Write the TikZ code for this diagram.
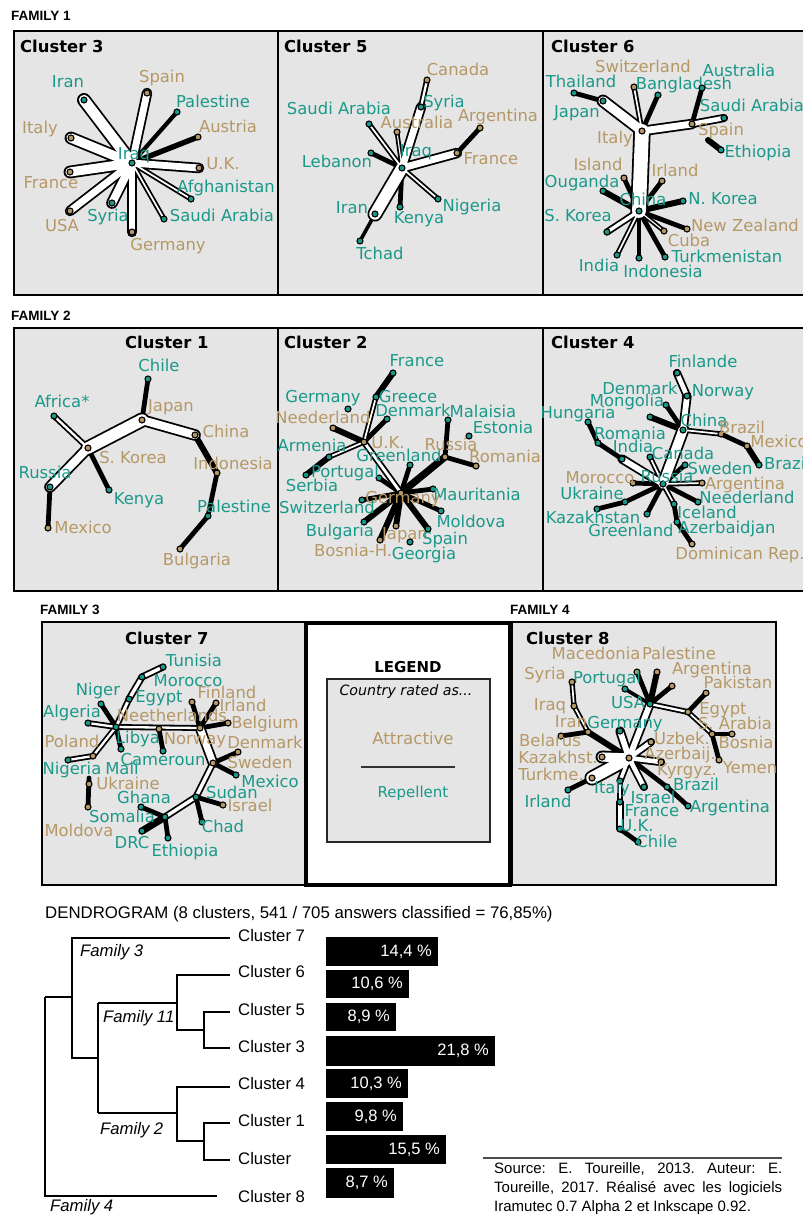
\documentclass[tikz,border=0pt]{standalone}
\usepackage{fontspec}
\setmainfont{DejaVu Sans}
\newfontfamily\libfont{Liberation Sans}
\definecolor{tl}{RGB}{26,153,138}
\definecolor{tn}{RGB}{182,152,102}
\definecolor{pg}{RGB}{229,229,229}
\pgfdeclarelayer{panel}
\pgfdeclarelayer{eo}
\pgfdeclarelayer{ei}
\pgfsetlayers{panel,eo,ei,main}
\tikzset{
 lbl/.style={font=\fontsize{16.4}{18}\selectfont, inner sep=0pt, text height=11.5pt, text depth=1.5pt},
 dot/.style={circle, draw=black, line width=1.1pt, inner sep=0pt, minimum size=6pt},
 panelbox/.style={draw=black, fill=pg, line width=2.5pt},
 ttl/.style={font=\bfseries\fontsize{16.4}{18}\selectfont, inner sep=0pt, anchor=west},
 fam/.style={font=\libfont\bfseries\fontsize{13.5}{15}\selectfont, inner sep=0pt, anchor=west},
 dend/.style={line width=1.8pt},
 dl/.style={font=\libfont\fontsize{16.7}{19}\selectfont, inner sep=0pt, anchor=base west},
 di/.style={font=\libfont\itshape\fontsize{16.7}{19}\selectfont, inner sep=0pt, anchor=base west},
 bartxt/.style={font=\libfont\fontsize{16.5}{19}\selectfont, text=white, inner sep=0pt, anchor=east},
}
\newcommand\cty[7]{\coordinate (#1) at (#2,#3);\node[dot,fill=#4] (#1d) at (#1) {};\node[lbl,text=#4] (#1l) at (#5,#6) {#7};}
\newcommand\edgeT[3]{\begin{pgfonlayer}{eo}\draw[line width=#3pt*1.15+3.6pt,line cap=round] (#1)--(#2);\end{pgfonlayer}\begin{pgfonlayer}{ei}\draw[white,line width=#3pt*1.15,line cap=round] (#1)--(#2);\end{pgfonlayer}}
\newcommand\edgeK[3]{\begin{pgfonlayer}{eo}\draw[line width=#3pt*1.2,line cap=round] (#1)--(#2);\end{pgfonlayer}}
\begin{document}
\begin{tikzpicture}[x=1pt,y=-1pt]
\useasboundingbox (0,0) rectangle (803,1216);
\begin{pgfonlayer}{panel}
\fill[white] (0,0) rectangle (803,1216);
\draw[panelbox] (14,31) rectangle (278,295);
\draw[panelbox] (278,31) rectangle (543,295);
\draw[panelbox] (543,31) rectangle (812,295);
\draw[panelbox] (14,328) rectangle (278,591);
\draw[panelbox] (278,328) rectangle (543,591);
\draw[panelbox] (543,328) rectangle (812,591);
\draw[panelbox] (42,622) rectangle (305,885);
\draw[draw=black, fill=white, line width=3.5pt] (306,623) rectangle (510,885);
\draw[panelbox] (512,622) rectangle (776,885);
\draw[draw=black!85, fill=pg, line width=1.3pt] (327,679) rectangle (490,842);
\end{pgfonlayer}
% family labels
\node[fam] (f1) at (11,16) {FAMILY 1};
\node[fam] (f2) at (11,316) {FAMILY 2};
\node[fam] (f3) at (40,610) {FAMILY 3};
\node[fam] (f4) at (510,610) {FAMILY 4};
% titles
\node[ttl] (t3) at (20,46) {Cluster 3};
\node[ttl] (t5) at (284,46) {Cluster 5};
\node[ttl] (t6) at (551,46) {Cluster 6};
\node[ttl] (t1) at (125,342) {Cluster 1};
\node[ttl] (t2) at (284,342) {Cluster 2};
\node[ttl] (t4) at (551,342) {Cluster 4};
\node[ttl] (t7) at (125,638) {Cluster 7};
\node[ttl] (t8) at (526,638) {Cluster 8};
% ---------- Cluster 3
\cty{a1}{132}{163}{tl}{134}{154}{Iraq}
\cty{a2}{84}{100}{tl}{68}{82}{Iran}
\cty{a3}{147}{93}{tn}{162}{77}{Spain}
\cty{a4}{177}{112}{tl}{213}{102}{Palestine}
\cty{a5}{198}{137}{tn}{228}{127}{Austria}
\cty{a6}{199}{168}{tn}{223}{164}{U.K.}
\cty{a7}{191}{199}{tl}{226}{187}{Afghanistan}
\cty{a8}{164}{219}{tl}{222}{216}{Saudi Arabia}
\cty{a9}{132}{232}{tn}{168}{245}{Germany}
\cty{a10}{112}{203}{tl}{108}{216}{Syria}
\cty{a11}{70}{211}{tn}{62}{226}{USA}
\cty{a12}{70}{172}{tn}{51}{183}{France}
\cty{a13}{71}{138}{tn}{40}{128}{Italy}
\edgeT{a1}{a2}{9}\edgeT{a1}{a3}{6}\edgeK{a1}{a4}{3.5}\edgeK{a1}{a5}{4.5}
\edgeT{a1}{a6}{6}\edgeT{a1}{a7}{1.5}\edgeT{a1}{a8}{1.5}\edgeT{a1}{a9}{6}
\edgeT{a1}{a10}{7}\edgeT{a1}{a11}{6}\edgeT{a1}{a12}{8}\edgeT{a1}{a13}{8}
% ---------- Cluster 5
\cty{b1}{402}{168}{tl}{416}{151}{Iraq}
\cty{b2}{427}{80}{tn}{458}{70}{Canada}
\cty{b3}{421}{107}{tl}{444}{102}{Syria}
\cty{b4}{369}{124}{tl}{339}{109}{Saudi Arabia}
\cty{b5}{397}{132}{tn}{417}{123}{Australia}
\cty{b6}{480}{128}{tn}{498}{116}{Argentina}
\cty{b7}{457}{153}{tn}{491}{159}{France}
\cty{b8}{371}{153}{tl}{337}{162}{Lebanon}
\cty{b9}{438}{199}{tl}{472}{206}{Nigeria}
\cty{b10}{400}{207}{tl}{419}{218}{Kenya}
\cty{b11}{375}{214}{tl}{352}{208}{Iran}
\cty{b12}{360}{241}{tl}{380}{254}{Tchad}
\edgeT{b1}{b3}{6}\edgeT{b3}{b2}{2}\edgeT{b1}{b4}{1.5}\edgeT{b1}{b5}{1}
\edgeK{b1}{b8}{4}\edgeT{b1}{b7}{6}\edgeK{b7}{b6}{4}\edgeT{b1}{b9}{1.5}
\edgeK{b1}{b10}{4}\edgeT{b1}{b11}{10}\edgeK{b11}{b12}{3}
% ---------- Cluster 6
\cty{c1}{642}{131}{tn}{615}{138}{Italy}
\cty{c2}{639}{211}{tl}{643}{200}{China}
\cty{c3}{574}{93}{tl}{581}{82}{Thailand}
\cty{c4}{603}{101}{tl}{577}{112}{Japan}
\cty{c5}{634}{87}{tn}{643}{67}{Switzerland}
\cty{c6}{658}{95}{tl}{684}{84}{Bangladesh}
\cty{c7}{702}{88}{tl}{739}{71}{Australia}
\cty{c8}{692}{124}{tn}{721}{130}{Spain}
\cty{c9}{724}{118}{tl}{752}{106}{Saudi Arabia}
\cty{c10}{721}{150}{tl}{758}{152}{Ethiopia}
\coordinate (c10a) at (708,140);
\cty{c11}{624}{178}{tn}{598}{165}{Island}
\cty{c12}{662}{181}{tn}{675}{171}{Irland}
\cty{c13}{603}{191}{tl}{582}{182}{Ouganda}
\cty{c14}{683}{201}{tl}{723}{199}{N. Korea}
\cty{c15}{607}{232}{tl}{578}{216}{S. Korea}
\cty{c16}{687}{229}{tn}{745}{226}{New Zealand}
\cty{c17}{664}{231}{tn}{689}{241}{Cuba}
\cty{c18}{665}{257}{tl}{727}{257}{Turkmenistan}
\cty{c19}{639}{258}{tl}{663}{272}{Indonesia}
\cty{c20}{617}{255}{tl}{599}{266}{India}
\edgeT{c1}{c2}{12}\edgeT{c1}{c4}{8}\edgeK{c4}{c3}{4}\edgeT{c1}{c5}{1.5}
\edgeK{c1}{c6}{4}\edgeT{c1}{c8}{6}\edgeT{c8}{c9}{4}\edgeK{c8}{c7}{4}
\edgeK{c10a}{c10}{5}\edgeK{c2}{c11}{4}\edgeK{c2}{c12}{4}\edgeK{c2}{c13}{5}
\edgeK{c2}{c14}{5}\edgeT{c2}{c15}{3}\edgeK{c2}{c16}{4}\edgeT{c2}{c17}{1}
\edgeK{c2}{c18}{4}\edgeK{c2}{c19}{4}\edgeT{c2}{c20}{1.5}
% ---------- Cluster 1
\cty{d1}{88}{448}{tn}{133}{458}{S. Korea}
\cty{d2}{142}{420}{tn}{171}{406}{Japan}
\cty{d3}{148}{379}{tl}{159}{366}{Chile}
\cty{d4}{54}{416}{tl}{62}{402}{Africa*}
\cty{d5}{195}{435}{tn}{226}{432}{China}
\cty{d6}{217}{473}{tn}{233}{464}{Indonesia}
\cty{d7}{208}{516}{tl}{234}{507}{Palestine}
\cty{d8}{180}{549}{tn}{197}{560}{Bulgaria}
\cty{d9}{50}{487}{tl}{45}{473}{Russia}
\cty{d10}{48}{528}{tn}{83}{528}{Mexico}
\cty{d11}{109}{490}{tl}{139}{499}{Kenya}
\edgeT{d1}{d2}{10}\edgeT{d2}{d5}{7}\edgeK{d2}{d3}{4}\edgeT{d1}{d4}{2}
\edgeT{d1}{d9}{7}\edgeK{d9}{d10}{4}\edgeK{d1}{d11}{4}\edgeK{d5}{d6}{5}
\edgeK{d6}{d7}{4}\edgeK{d7}{d8}{4}
% ---------- Cluster 2
\cty{e1}{364}{442}{tn}{388}{443}{U.K.}
\cty{e2}{401}{493}{tn}{403}{498}{Germany}
\cty{e3}{393}{373}{tl}{417}{361}{France}
\cty{e4}{376}{397}{tl}{408}{397}{Greece}
\cty{e5}{348}{409}{tl}{323}{397}{Germany}
\cty{e6}{387}{419}{tl}{413}{411}{Denmark}
\cty{e7}{333}{428}{tn}{323}{418}{Neederland}
\cty{e8}{329}{457}{tl}{312}{446}{Armenia}
\cty{e9}{306}{475}{tl}{312}{486}{Serbia}
\cty{e10}{379}{478}{tl}{345}{472}{Portugal}
\cty{e11}{410}{465}{tl}{399}{456}{Greenland}
\cty{e12}{448}{420}{tl}{483}{412}{Malaisia}
\cty{e13}{469}{436}{tl}{503}{428}{Estonia}
\cty{e14}{445}{457}{tn}{451}{445}{Russia}
\cty{e15}{476}{466}{tn}{505}{457}{Romania}
\cty{e16}{433}{489}{tl}{477}{495}{Mauritania}
\cty{e17}{362}{500}{tl}{327}{508}{Switzerland}
\cty{e18}{441}{511}{tl}{471}{522}{Moldova}
\cty{e19}{364}{522}{tl}{340}{531}{Bulgaria}
\cty{e20}{396}{526}{tn}{405}{534}{Japan}
\cty{e21}{428}{529}{tl}{445}{539}{Spain}
\cty{e22}{380}{540}{tn}{353}{551}{Bosnia-H.}
\cty{e23}{410}{542}{tl}{424}{554}{Georgia}
\edgeK{e3}{e4}{5}\edgeT{e4}{e1}{1.5}\edgeK{e1}{e6}{4}\edgeK{e1}{e7}{5}
\edgeT{e1}{e8}{1.5}\edgeK{e8}{e9}{5}\edgeT{e1}{e2}{2.5}\edgeK{e2}{e10}{4}
\edgeK{e2}{e11}{4}\edgeK{e2}{e14}{6}\edgeK{e14}{e12}{4}\edgeK{e14}{e15}{4}
\edgeK{e2}{e16}{4}\edgeK{e2}{e17}{4}\edgeK{e2}{e18}{4}\edgeK{e2}{e19}{5}
\edgeK{e2}{e20}{5}\edgeK{e2}{e21}{5}\edgeK{e2}{e22}{5}
% ---------- Cluster 4
\cty{f1}{663}{484}{tl}{667}{477}{Russia}
\cty{f2}{683}{430}{tl}{704}{421}{China}
\cty{f3}{677}{373}{tl}{703}{362}{Finlande}
\cty{f4}{687}{396}{tl}{723}{391}{Norway}
\cty{f5}{666}{405}{tl}{640}{389}{Denmark}
\cty{f6}{650}{417}{tl}{627}{401}{Mongolia}
\cty{f7}{721}{434}{tn}{742}{428}{Brazil}
\cty{f8}{747}{446}{tn}{779}{442}{Mexico}
\cty{f9}{759}{465}{tl}{787}{464}{Brazil}
\cty{f10}{588}{422}{tl}{578}{413}{Hungaria}
\cty{f11}{598}{443}{tl}{630}{434}{Romania}
\cty{f12}{622}{459}{tl}{633}{447}{India}
\cty{f13}{650}{457}{tl}{683}{454}{Canada}
\cty{f14}{685}{465}{tl}{720}{469}{Sweden}
\cty{f15}{633}{483}{tn}{600}{478}{Morocco}
\cty{f16}{702}{483}{tn}{745}{484}{Argentina}
\cty{f17}{625}{502}{tl}{592}{494}{Ukraine}
\cty{f18}{597}{509}{tl}{593}{518}{Kazakhstan}
\cty{f19}{647}{514}{tl}{631}{531}{Greenland}
\cty{f20}{698}{502}{tl}{747}{498}{Neederland}
\cty{f21}{674}{504}{tl}{707}{513}{Iceland}
\cty{f22}{677}{522}{tl}{727}{528}{Azerbaidjan}
\cty{f23}{692}{544}{tn}{740}{554}{Dominican Rep.}
\edgeT{f1}{f2}{8}\edgeT{f2}{f4}{5}\edgeT{f4}{f3}{4}\edgeK{f2}{f5}{4}
\edgeK{f2}{f6}{5}\edgeT{f2}{f7}{1.5}\edgeK{f7}{f8}{4}\edgeK{f8}{f9}{5}
\edgeT{f1}{f12}{5}\edgeK{f12}{f11}{4}\edgeK{f11}{f10}{4}\edgeT{f1}{f13}{1.5}
\edgeK{f1}{f14}{4}\edgeK{f1}{f15}{4}\edgeT{f1}{f16}{1.5}\edgeK{f1}{f17}{4}
\edgeK{f17}{f18}{4}\edgeK{f1}{f19}{4}\edgeK{f1}{f20}{4}\edgeT{f1}{f21}{1.5}
\edgeK{f21}{f22}{4}\edgeK{f22}{f23}{4}
% ---------- Cluster 7
\cty{g1}{116}{727}{tl}{138}{738}{Libya}
\cty{g2}{200}{728}{tn}{172}{716}{Neetherlands}
\cty{g3}{159}{729}{tn}{195}{739}{Norway}
\cty{g4}{163}{667}{tl}{194}{661}{Tunisia}
\cty{g5}{142}{677}{tl}{188}{681}{Morocco}
\cty{g6}{129}{699}{tl}{159}{697}{Egypt}
\cty{g7}{101}{704}{tl}{98}{690}{Niger}
\cty{g8}{88}{723}{tl}{72}{712}{Algeria}
\cty{g9}{192}{702}{tn}{227}{693}{Finland}
\cty{g10}{216}{703}{tn}{243}{706}{Irland}
\cty{g11}{228}{723}{tn}{265}{723}{Belgium}
\cty{g12}{238}{752}{tn}{265}{743}{Denmark}
\cty{g13}{213}{763}{tn}{260}{763}{Sweden}
\cty{g14}{236}{775}{tl}{270}{782}{Mexico}
\cty{g15}{196}{797}{tl}{232}{793}{Sudan}
\cty{g16}{223}{805}{tn}{250}{806}{Israel}
\cty{g17}{202}{822}{tl}{223}{827}{Chad}
\cty{g18}{165}{817}{tl}{122}{817}{Somalia}
\cty{g19}{141}{807}{tl}{144}{798}{Ghana}
\cty{g20}{142}{831}{tl}{132}{843}{DRC}
\cty{g21}{168}{838}{tl}{185}{851}{Ethiopia}
\cty{g22}{163}{751}{tl}{163}{760}{Cameroun}
\cty{g23}{93}{756}{tn}{72}{742}{Poland}
\cty{g24}{68}{760}{tl}{72}{769}{Nigeria}
\cty{g25}{121}{749}{tl}{122}{769}{Mali}
\cty{g26}{89}{784}{tn}{128}{784}{Ukraine}
\cty{g27}{88}{807}{tn}{79}{831}{Moldova}
\coordinate (g26a) at (89,778);
\edgeT{g4}{g5}{3}\edgeT{g5}{g6}{3}\edgeT{g6}{g1}{2.5}\edgeK{g1}{g7}{4}
\edgeT{g1}{g8}{2}\edgeT{g1}{g23}{2}\edgeT{g23}{g24}{2}\edgeK{g1}{g25}{4}
\edgeT{g1}{g2}{2}\edgeK{g3}{g22}{4}\edgeK{g2}{g9}{4}\edgeK{g2}{g10}{4}
\edgeK{g2}{g11}{4}\edgeT{g2}{g13}{6}\edgeK{g13}{g12}{4}\edgeK{g13}{g14}{4}
\edgeT{g13}{g15}{3}\edgeK{g15}{g16}{4}\edgeK{g15}{g17}{4}\edgeT{g15}{g18}{3}
\edgeK{g18}{g19}{4}\edgeK{g18}{g20}{6}\edgeK{g18}{g21}{4}\edgeK{g26a}{g27}{4}
% ---------- Cluster 8
\cty{h1}{629}{758}{tn}{680}{754}{Azerbaij.}
\cty{h2}{650}{704}{tl}{628}{703}{USA}
\cty{h3}{637}{672}{tn}{596}{654}{Macedonia}
\cty{h4}{657}{672}{tn}{679}{654}{Palestine}
\cty{h5}{672}{686}{tn}{712}{669}{Argentina}
\cty{h6}{625}{689}{tl}{607}{678}{Portugal}
\cty{h7}{688}{712}{tn}{723}{709}{Egypt}
\cty{h8}{706}{693}{tn}{738}{683}{Pakistan}
\cty{h9}{712}{734}{tn}{735}{724}{S. Arabia}
\cty{h10}{732}{734}{tn}{746}{743}{Bosnia}
\cty{h11}{719}{760}{tn}{750}{768}{Yemen}
\cty{h12}{572}{682}{tn}{545}{674}{Syria}
\cty{h13}{574}{706}{tn}{550}{705}{Iraq}
\cty{h14}{588}{732}{tn}{571}{722}{Iran}
\cty{h15}{561}{736}{tn}{550}{741}{Belarus}
\cty{h16}{602}{757}{tn}{558}{758}{Kazakhst.}
\cty{h17}{592}{778}{tn}{551}{775}{Turkme.}
\cty{h18}{568}{790}{tl}{548}{802}{Irland}
\cty{h19}{620}{731}{tl}{625}{723}{Germany}
\cty{h20}{651}{742}{tn}{682}{739}{Uzbek.}
\cty{h21}{661}{762}{tn}{687}{770}{Kyrgyz.}
\cty{h22}{620}{781}{tl}{612}{788}{Italy}
\cty{h23}{644}{787}{tl}{653}{798}{Israel}
\cty{h24}{667}{787}{tl}{696}{785}{Brazil}
\cty{h25}{688}{806}{tl}{730}{807}{Argentina}
\cty{h26}{620}{802}{tl}{652}{811}{France}
\cty{h27}{620}{829}{tl}{637}{826}{U.K.}
\cty{h28}{638}{842}{tl}{657}{842}{Chile}
\edgeT{h1}{h2}{5}\edgeK{h2}{h3}{4}\edgeK{h2}{h4}{5}\edgeK{h2}{h5}{4}
\edgeK{h2}{h6}{3}\edgeT{h2}{h7}{2}\edgeK{h7}{h8}{4}\edgeT{h7}{h9}{1.5}
\edgeK{h9}{h10}{4}\edgeK{h9}{h11}{4}\edgeK{h1}{h14}{5}\edgeK{h14}{h15}{4}
\edgeT{h14}{h13}{1.5}\edgeT{h13}{h12}{1.5}\edgeT{h1}{h19}{5}\edgeT{h1}{h20}{4}
\edgeT{h1}{h16}{8}\edgeT{h1}{h17}{10}\edgeK{h17}{h18}{4}\edgeT{h1}{h21}{4}
\edgeT{h1}{h22}{3}\edgeT{h1}{h23}{4}\edgeK{h1}{h24}{4}\edgeK{h24}{h25}{4}
\edgeT{h22}{h26}{2}\edgeT{h26}{h27}{3}\edgeK{h27}{h28}{4}
% ---------- Legend
\node[font=\bfseries\fontsize{15}{17}\selectfont, inner sep=0pt] (lgt) at (408,667) {LEGEND};
\node[font=\itshape\fontsize{14.2}{16}\selectfont, inner sep=0pt] (lgc) at (406,692) {Country rated as...};
\node[font=\fontsize{16.6}{18}\selectfont, text=tn, inner sep=0pt] (lga) at (413,738) {Attractive};
\coordinate (lg1) at (361,767); \coordinate (lg2) at (455,767);
\draw[line width=1.3pt, black!80] (lg1) -- (lg2);
\node[font=\fontsize{15}{17}\selectfont, text=tl, inner sep=0pt] (lgr) at (413,793) {Repellent};
% ---------- Dendrogram
\node[font=\libfont\fontsize{16.8}{19}\selectfont, inner sep=0pt, anchor=base west] (dtitle) at (45,918) {DENDROGRAM (8 clusters, 541 / 705 answers classified = 76,85\%)};
\draw[dend] (230,938) -- (72,938) -- (72,1058) -- (98,1058);
\draw[dend] (45,997) -- (72,997);
\draw[dend] (45,997) -- (45,1196) -- (217,1196);
\draw[dend] (98,1003) -- (98,1113);
\draw[dend] (98,1003) -- (177,1003);
\draw[dend] (230,975) -- (177,975) -- (177,1030) -- (204,1030);
\draw[dend] (230,1012) -- (204,1012) -- (204,1048) -- (230,1048);
\draw[dend] (98,1113) -- (177,1113);
\draw[dend] (230,1087) -- (177,1087) -- (177,1141) -- (204,1141);
\draw[dend] (230,1123) -- (204,1123) -- (204,1160) -- (230,1160);
\node[dl] (k7) at (238,941) {Cluster 7};
\node[dl] (k6) at (238,977) {Cluster 6};
\node[dl] (k5) at (238,1015) {Cluster 5};
\node[dl] (k3) at (238,1052) {Cluster 3};
\node[dl] (k4) at (238,1089) {Cluster 4};
\node[dl] (k1) at (238,1126) {Cluster 1};
\node[dl] (k2) at (238,1164) {Cluster};
\node[dl] (k8) at (238,1202) {Cluster 8};
\node[di] (fa3) at (80,956) {Family 3};
\node[di] (fa11) at (103,1022) {Family 11};
\node[di] (fa2) at (100,1134) {Family 2};
\node[di] (fa4) at (50,1211) {Family 4};
% bars
\fill (326,937) rectangle (438,966); \node[bartxt] (p7) at (432,951.5) {14,4 \%};
\fill (326,970) rectangle (409,998); \node[bartxt] (p6) at (403,984) {10,6 \%};
\fill (326,1003) rectangle (396,1031); \node[bartxt] (p5) at (390,1017) {8,9 \%};
\fill (326,1036) rectangle (495,1066); \node[bartxt] (p3) at (489,1051) {21,8 \%};
\fill (326,1069) rectangle (408,1098); \node[bartxt] (p4) at (402,1083.5) {10,3 \%};
\fill (326,1102) rectangle (403,1131); \node[bartxt] (p1) at (397,1116.5) {9,8 \%};
\fill (326,1135) rectangle (446,1164); \node[bartxt] (p2) at (440,1149.5) {15,5 \%};
\fill (326,1168) rectangle (394,1198); \node[bartxt] (p8) at (388,1183) {8,7 \%};
% source
\coordinate (s1) at (483,1158); \coordinate (s2) at (782,1158);
\draw[line width=1.2pt, black!70] (s1) -- (s2);
\node[anchor=north west, text width=288pt, align=justify, inner sep=0pt, font=\libfont\fontsize{15}{19}\selectfont] (src) at (494,1162) {\frenchspacing Source: E. Toureille, 2013. Auteur: E.\linebreak Toureille, 2017. Réalisé avec les logiciels\linebreak Iramutec 0.7 Alpha 2 et Inkscape 0.92.};
\end{tikzpicture}
\end{document}
